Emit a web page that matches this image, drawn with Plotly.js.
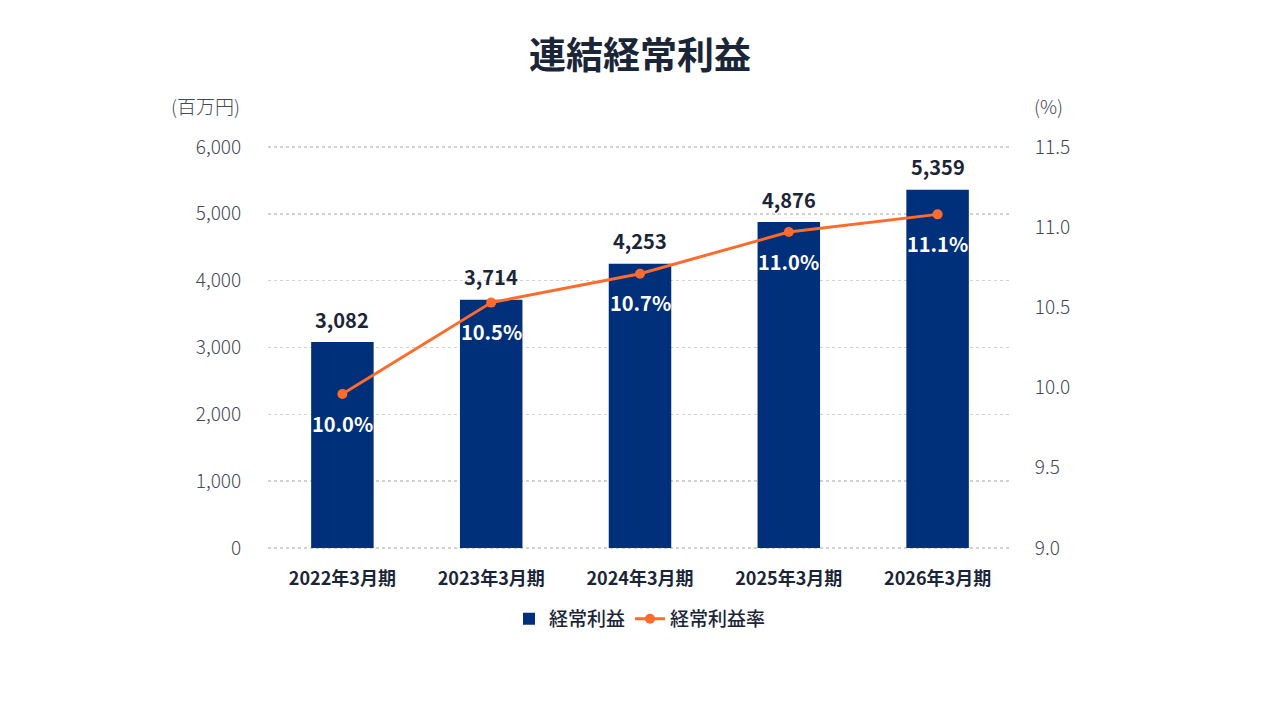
<!DOCTYPE html>
<html>
<head>
<meta charset="utf-8">
<script src="https://cdn.plot.ly/plotly-3.0.1.min.js"></script>
<style>
  html, body { margin: 0; padding: 0; background: #fff; }
  #chart { width: 1280px; height: 720px; }
</style>
</head>
<body>
<div id="chart"></div>
<script>
const FONT = '"Noto Sans CJK JP", "Noto Sans", sans-serif';
const TEXT_COLOR = "#1b2538";
const AXIS_COLOR = "#444a55";
const BAR_COLOR = "#00307a";
const LINE_COLOR = "#ff6b2c";

const categories = ["2022年3月期", "2023年3月期", "2024年3月期", "2025年3月期", "2026年3月期"];
const profit = [3082, 3714, 4253, 4876, 5359];
const profitRate = [9.96, 10.53, 10.71, 10.97, 11.08];
const leftTicks = [0, 1000, 2000, 3000, 4000, 5000, 6000];
const rightTicks = [9.0, 9.5, 10.0, 10.5, 11.0, 11.5];

const data = [
  {
    type: "bar",
    name: "経常利益",
    x: categories,
    y: profit,
    width: 0.42,
    marker: { color: BAR_COLOR },
    hoverinfo: "skip",
  },
  {
    type: "scatter",
    mode: "lines+markers",
    name: "経常利益率",
    x: categories,
    y: profitRate,
    yaxis: "y2",
    line: { color: LINE_COLOR, width: 3 },
    marker: { color: LINE_COLOR, size: 10 },
    hoverinfo: "skip",
  },
];

// value labels above the bars and under the line points
const annotations = [];
categories.forEach((c, i) => {
  annotations.push({
    x: c, y: profit[i], xref: "x", yref: "y",
    text: profit[i].toLocaleString("en-US"),
    showarrow: false, yanchor: "middle", yshift: 23,
    font: { family: FONT, size: 20, color: TEXT_COLOR, weight: 700 },
  });
  annotations.push({
    x: c, y: profitRate[i], xref: "x", yref: "y2",
    text: profitRate[i].toFixed(1) + "%",
    showarrow: false, yanchor: "middle", yshift: -29,
    font: { family: FONT, size: 20, color: "#ffffff", weight: 700 },
  });
});

// axis unit labels
annotations.push(
  {
    x: 0, y: 1, xref: "paper", yref: "paper",
    xshift: -63, yshift: 40, xanchor: "center", yanchor: "middle",
    text: "(百万円)", showarrow: false,
    font: { family: FONT, size: 19, color: AXIS_COLOR, weight: 300 },
  },
  {
    x: 1, y: 1, xref: "paper", yref: "paper",
    xshift: 36, yshift: 40, xanchor: "center", yanchor: "middle",
    text: "(%)", showarrow: false,
    font: { family: FONT, size: 19, color: AXIS_COLOR, weight: 300 },
  }
);

// pad the range by ~2px so the 0 and 6,000 gridlines are both drawn
const PAD = 30;
const rightScale = 2.5 / 6000;

const layout = {
  width: 1280,
  height: 720,
  paper_bgcolor: "#ffffff",
  plot_bgcolor: "#ffffff",
  font: { family: FONT, color: TEXT_COLOR },
  title: {
    text: "連結経常利益",
    font: { family: FONT, size: 37, color: TEXT_COLOR, weight: 700 },
    x: 0.5, xanchor: "center",
    y: 0.922, yanchor: "middle",
  },
  margin: { l: 268, r: 268, t: 145, b: 170 },
  showlegend: true,
  legend: {
    orientation: "h",
    x: 0.5, xanchor: "center",
    y: -0.17, yanchor: "middle",
    font: { family: FONT, size: 19, color: TEXT_COLOR, weight: 500 },
    itemwidth: 30,
  },
  xaxis: {
    type: "category",
    showgrid: false,
    showline: false,
    ticks: "outside",
    ticklen: 12,
    tickcolor: "rgba(0,0,0,0)",
    tickfont: { family: FONT, size: 18, color: TEXT_COLOR, weight: 700 },
  },
  yaxis: {
    range: [-PAD, 6000 + PAD],
    tickvals: leftTicks,
    ticktext: leftTicks.map((v) => v.toLocaleString("en-US")),
    showgrid: true,
    gridcolor: "#d2d2d2",
    griddash: "dot",
    gridwidth: 1.5,
    zeroline: false,
    showline: false,
    ticks: "outside",
    ticklen: 22,
    tickcolor: "rgba(0,0,0,0)",
    tickfont: { family: FONT, size: 19, color: AXIS_COLOR, weight: 300 },
  },
  yaxis2: {
    overlaying: "y",
    side: "right",
    range: [9.0 - PAD * rightScale, 11.5 + PAD * rightScale],
    tickvals: rightTicks,
    ticktext: rightTicks.map((v) => v.toFixed(1)),
    showgrid: false,
    zeroline: false,
    showline: false,
    ticks: "outside",
    ticklen: 18,
    tickcolor: "rgba(0,0,0,0)",
    tickfont: { family: FONT, size: 19, color: AXIS_COLOR, weight: 300 },
  },
  annotations: annotations,
};

Plotly.newPlot("chart", data, layout, { displayModeBar: false, staticPlot: true });
</script>
</body>
</html>
